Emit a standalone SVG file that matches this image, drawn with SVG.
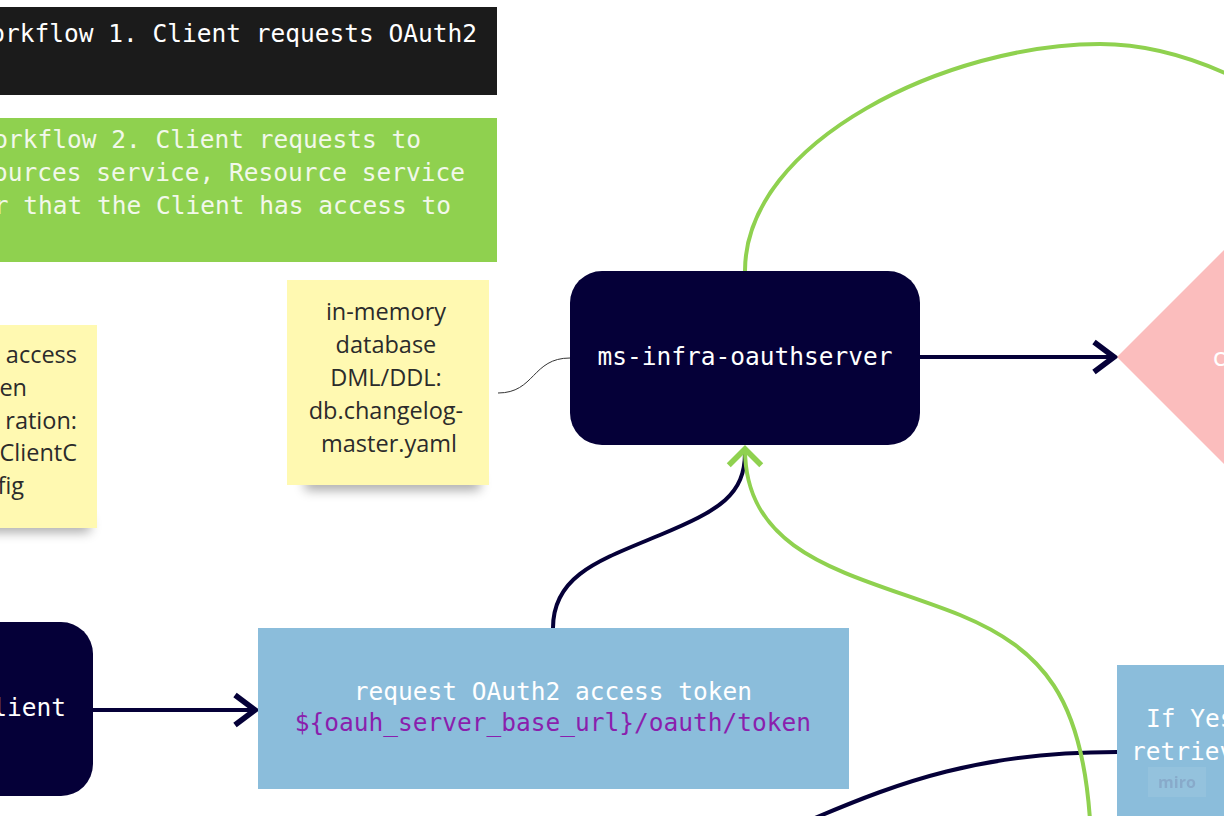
<svg xmlns="http://www.w3.org/2000/svg" width="1224" height="816" viewBox="0 0 1224 816">
<defs>
<style>
.mono{font-family:"DejaVu Sans Mono","Liberation Mono",monospace;font-size:24.5px}
.sticky{font-family:"Open Sans","Liberation Sans",sans-serif;font-size:23.5px;fill:#2b2b2b}
.w{fill:#ffffff}
.lg{fill:#f2f8ea}
.dark{fill:#050038}
.conn{fill:none;stroke:#050038;stroke-width:4}
.gconn{fill:none;stroke:#8fd14f;stroke-width:4}
</style>
<marker id="arrDark" markerUnits="userSpaceOnUse" markerWidth="40" markerHeight="40" refX="0" refY="0" viewBox="-22 -16 26 32" orient="auto" overflow="visible">
<path d="M-16,-12 L0,0 L-16,12" fill="none" stroke="#050038" stroke-width="4.5" stroke-linejoin="miter"/>
</marker>
<marker id="arrGreen" markerUnits="userSpaceOnUse" markerWidth="40" markerHeight="40" refX="0" refY="0" viewBox="-22 -16 26 32" orient="auto" overflow="visible">
<path d="M-13,-13 L0,0 L-13,13" fill="none" stroke="#8fd14f" stroke-width="4.5" stroke-linejoin="miter"/>
</marker>
<filter id="shadow" x="-30%" y="-100%" width="160%" height="300%">
<feGaussianBlur stdDeviation="6"/>
</filter>
</defs>
<rect x="0" y="0" width="1224" height="816" fill="#ffffff"/>

<g id="workflow1">
<rect x="-20" y="7" width="517" height="88" fill="#1b1b1b"/>
<text class="mono w" x="477" y="42" text-anchor="end">orkflow 1. Client requests OAuth2</text>
</g>

<g id="workflow2">
<rect x="-20" y="118" width="517" height="144" fill="#8fd14f"/>
<text class="mono lg" x="421" y="148" text-anchor="end">orkflow 2. Client requests to</text>
<text class="mono lg" x="465" y="181" text-anchor="end">ources service, Resource service</text>
<text class="mono lg" x="451" y="214" text-anchor="end">r that the Client has access to</text>
</g>

<g id="sticky-left">
<rect x="-100" y="518" width="190" height="14" fill="#000" opacity="0.35" filter="url(#shadow)"/>
<rect x="-110" y="325" width="207" height="203" fill="#fff9b1"/>
<text class="sticky" x="77" y="363" text-anchor="end">access</text>
<text class="sticky" x="27" y="396" text-anchor="end">en</text>
<text class="sticky" x="77" y="429" text-anchor="end">ration:</text>
<text class="sticky" x="77" y="461" text-anchor="end">ClientC</text>
<text class="sticky" x="24" y="494" text-anchor="end">fig</text>
</g>

<g id="sticky-db">
<rect x="305" y="476" width="175" height="14" fill="#000" opacity="0.35" filter="url(#shadow)"/>
<rect x="287" y="280" width="202" height="205" fill="#fff9b1"/>
<text class="sticky" text-anchor="middle">
<tspan x="389" y="320">in-memory</tspan>
<tspan x="389" y="353">database</tspan>
<tspan x="389" y="386">DML/DDL:</tspan>
<tspan x="389" y="419">db.changelog-</tspan>
<tspan x="389" y="452">master.yaml</tspan>
</text>
</g>

<g id="connectors">
<path d="M498,393 C535,393 532,358 570,358" fill="none" stroke="#333" stroke-width="1"/>
<path class="gconn" d="M745,271 C745,140 950,44 1100,44 C1150,44 1195,58 1240,80"/>
<path class="conn" d="M920,357 L1114,357" marker-end="url(#arrDark)"/>
<path class="conn" d="M93,710 L255,710" marker-end="url(#arrDark)"/>
<path class="conn" d="M553,628 C553,575 600,560 660,535 C720,510 745,495 745,452"/>
<path class="conn" d="M815,818 C900,782 980,752 1117,752"/>
<path class="gconn" d="M1090,820 C1082,700 1045,650 960,615 C860,575 745,560 745,449" marker-end="url(#arrGreen)"/>
</g>

<g id="oauthserver">
<rect x="570" y="271" width="350" height="174" rx="32" class="dark"/>
<text class="mono w" x="745" y="365" text-anchor="middle">ms-infra-oauthserver</text>
</g>

<g id="decision">
<polygon points="1117,357 1330,144 1543,357 1330,570" fill="#fbbdbd"/>
<text x="1212" y="366" font-family="DejaVu Sans Mono, monospace" font-size="24.5" fill="#ffffff">c</text>
</g>

<g id="client">
<rect x="-200" y="622" width="293" height="174" rx="32" class="dark"/>
<text class="mono w" x="66" y="716" text-anchor="end">lient</text>
</g>

<g id="request-token">
<rect x="258" y="628" width="591" height="161" fill="#8bbddb"/>
<text class="mono w" x="553" y="700" text-anchor="middle">request OAuth2 access token</text>
<text class="mono" x="553" y="731" text-anchor="middle" fill="#8a1fad">${oauh_server_base_url}/oauth/token</text>
</g>

<g id="if-yes">
<rect x="1117" y="665" width="120" height="160" fill="#8bbddb"/>
<text class="mono w" x="1146" y="727">If Yes</text>
<text class="mono w" x="1131" y="760">retriev</text>
<rect x="1148" y="767" width="58" height="30" fill="#ffffff" opacity="0.08"/>
<text x="1177" y="788" text-anchor="middle" font-family="Open Sans, Liberation Sans, sans-serif" font-size="16" font-weight="bold" fill="#7a8fb5" opacity="0.45">miro</text>
</g>
</svg>
